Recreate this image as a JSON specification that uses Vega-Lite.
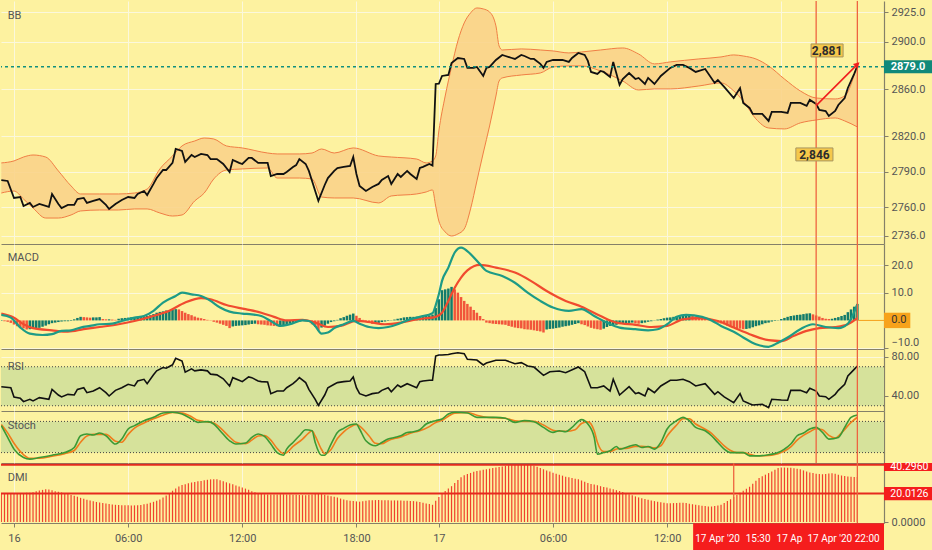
{
  "$schema": "https://vega.github.io/schema/vega-lite/v6.json",
  "background": "#fdf2a0",
  "padding": 0,
  "spacing": 0,
  "bounds": "flush",
  "config": {
    "view": {"stroke": null},
    "axis": {"labelFont": "Roboto", "labelFontSize": 11, "labelColor": "#555555", "tickColor": "#858069", "domainColor": "#858069", "domainWidth": 1.2, "gridColor": "#fbf8dc", "tickSize": 4, "labelPadding": 3},
    "text": {"font": "Roboto"},
    "concat": {"spacing": 0}
  },
  "datasets": {
    "price": [
      {"i":-4,"p":2783.0},{"i":-2,"p":2782.2},{"i":0,"p":2767.8},{"i":2,"p":2768.6},{"i":3,"p":2761.0},{"i":5,"p":2763.6},{"i":6,"p":2760.2},{"i":8,"p":2762.7},{"i":11,"p":2760.2},{"i":12,"p":2771.2},{"i":14,"p":2762.7},{"i":15,"p":2759.3},{"i":17,"p":2761.9},{"i":19,"p":2761.9},{"i":20,"p":2766.9},{"i":22,"p":2767.8},{"i":23,"p":2763.6},{"i":25,"p":2765.3},{"i":27,"p":2766.9},{"i":29,"p":2761.9},{"i":30,"p":2758.5},{"i":32,"p":2762.7},{"i":34,"p":2766.1},{"i":36,"p":2768.6},{"i":38,"p":2767.8},{"i":39,"p":2771.2},{"i":41,"p":2773.7},{"i":42,"p":2770.3},{"i":44,"p":2779.7},{"i":45,"p":2784.7},{"i":47,"p":2791.5},{"i":48,"p":2791.5},{"i":50,"p":2797.5},{"i":51,"p":2809.3},{"i":53,"p":2807.6},{"i":54,"p":2798.3},{"i":56,"p":2804.2},{"i":57,"p":2802.5},{"i":59,"p":2805.1},{"i":61,"p":2804.2},{"i":62,"p":2800.8},{"i":64,"p":2800.8},{"i":66,"p":2796.6},{"i":68,"p":2789.8},{"i":69,"p":2800.0},{"i":71,"p":2797.5},{"i":72,"p":2796.6},{"i":74,"p":2801.7},{"i":75,"p":2801.7},{"i":77,"p":2797.5},{"i":78,"p":2797.5},{"i":80,"p":2797.5},{"i":81,"p":2786.4},{"i":83,"p":2788.1},{"i":85,"p":2788.1},{"i":86,"p":2789.8},{"i":88,"p":2794.1},{"i":89,"p":2795.7},{"i":90,"p":2800.8},{"i":92,"p":2796.6},{"i":93,"p":2790.7},{"i":95,"p":2773.7},{"i":96,"p":2765.3},{"i":98,"p":2778.8},{"i":99,"p":2784.7},{"i":101,"p":2790.7},{"i":102,"p":2793.2},{"i":104,"p":2794.1},{"i":106,"p":2794.9},{"i":107,"p":2802.5},{"i":108,"p":2788.1},{"i":109,"p":2778.0},{"i":111,"p":2773.7},{"i":113,"p":2777.1},{"i":115,"p":2779.7},{"i":116,"p":2783.0},{"i":118,"p":2786.4},{"i":119,"p":2779.7},{"i":121,"p":2788.1},{"i":122,"p":2785.6},{"i":124,"p":2790.7},{"i":125,"p":2788.1},{"i":127,"p":2783.9},{"i":128,"p":2793.2},{"i":129,"p":2794.1},{"i":131,"p":2796.6},{"i":132,"p":2795.3},{"i":133,"p":2864.4},{"i":134,"p":2864.6},{"i":135,"p":2871.2},{"i":137,"p":2872.0},{"i":138,"p":2882.2},{"i":140,"p":2886.4},{"i":142,"p":2885.6},{"i":143,"p":2878.0},{"i":145,"p":2878.0},{"i":146,"p":2878.8},{"i":148,"p":2871.2},{"i":149,"p":2878.0},{"i":150,"p":2878.8},{"i":152,"p":2884.7},{"i":154,"p":2889.0},{"i":155,"p":2888.1},{"i":157,"p":2886.4},{"i":158,"p":2885.6},{"i":160,"p":2889.0},{"i":161,"p":2888.1},{"i":163,"p":2885.6},{"i":164,"p":2885.6},{"i":166,"p":2881.4},{"i":167,"p":2878.0},{"i":168,"p":2883.1},{"i":170,"p":2884.7},{"i":172,"p":2884.7},{"i":173,"p":2884.7},{"i":175,"p":2883.1},{"i":176,"p":2886.4},{"i":178,"p":2890.7},{"i":180,"p":2889.0},{"i":181,"p":2883.9},{"i":182,"p":2874.6},{"i":184,"p":2872.9},{"i":185,"p":2875.4},{"i":186,"p":2874.6},{"i":188,"p":2870.4},{"i":189,"p":2883.1},{"i":191,"p":2863.6},{"i":192,"p":2868.6},{"i":194,"p":2873.7},{"i":196,"p":2868.6},{"i":197,"p":2869.5},{"i":199,"p":2864.4},{"i":200,"p":2869.5},{"i":202,"p":2864.4},{"i":204,"p":2871.2},{"i":207,"p":2878.0},{"i":209,"p":2880.5},{"i":211,"p":2880.5},{"i":213,"p":2878.0},{"i":215,"p":2874.6},{"i":218,"p":2877.1},{"i":221,"p":2865.3},{"i":222,"p":2867.8},{"i":224,"p":2861.9},{"i":227,"p":2852.5},{"i":229,"p":2861.0},{"i":230,"p":2848.3},{"i":232,"p":2844.1},{"i":233,"p":2839.0},{"i":236,"p":2839.0},{"i":238,"p":2833.1},{"i":239,"p":2840.7},{"i":242,"p":2840.7},{"i":244,"p":2839.8},{"i":245,"p":2848.3},{"i":248,"p":2848.3},{"i":250,"p":2845.8},{"i":251,"p":2850.9},{"i":253,"p":2847.5},{"i":254,"p":2842.4},{"i":256,"p":2841.5},{"i":257,"p":2837.3},{"i":259,"p":2841.5},{"i":260,"p":2846.6},{"i":262,"p":2852.5},{"i":263,"p":2861.0},{"i":265,"p":2872.9},{"i":266,"p":2879.5}
    ],
    "bb": [
      {"i":-4,"u":2797.5,"l":2772.0},{"i":0,"u":2799.2,"l":2773.7},{"i":3,"u":2802.5,"l":2766.9},{"i":6,"u":2804.2,"l":2759.3},{"i":10,"u":2802.5,"l":2750.8},{"i":14,"u":2790.7,"l":2750.8},{"i":18,"u":2778.0,"l":2753.4},{"i":21,"u":2771.2,"l":2756.8},{"i":27,"u":2771.2,"l":2757.6},{"i":33,"u":2771.2,"l":2757.6},{"i":38,"u":2772.0,"l":2758.5},{"i":42,"u":2775.4,"l":2758.5},{"i":46,"u":2792.4,"l":2755.1},{"i":50,"u":2803.4,"l":2752.5},{"i":53,"u":2811.9,"l":2753.4},{"i":57,"u":2816.1,"l":2765.3},{"i":60,"u":2818.6,"l":2772.0},{"i":63,"u":2817.8,"l":2783.9},{"i":67,"u":2811.9,"l":2791.5},{"i":72,"u":2810.2,"l":2792.4},{"i":80,"u":2805.9,"l":2793.2},{"i":83,"u":2805.1,"l":2784.7},{"i":90,"u":2805.1,"l":2784.7},{"i":94,"u":2805.9,"l":2783.9},{"i":97,"u":2809.3,"l":2768.6},{"i":101,"u":2805.9,"l":2767.8},{"i":107,"u":2810.2,"l":2767.8},{"i":115,"u":2803.4,"l":2763.6},{"i":119,"u":2802.5,"l":2769.5},{"i":127,"u":2800.8,"l":2771.2},{"i":130,"u":2797.5,"l":2772.9},{"i":132,"u":2799.2,"l":2774.6},{"i":133,"u":2803.4,"l":2761.0},{"i":134,"u":2824.6,"l":2748.3},{"i":136,"u":2854.2,"l":2739.0},{"i":138,"u":2878.8,"l":2735.6},{"i":140,"u":2900.9,"l":2737.3},{"i":142,"u":2916.1,"l":2741.5},{"i":144,"u":2924.6,"l":2758.5},{"i":146,"u":2928.8,"l":2782.2},{"i":148,"u":2928.0,"l":2805.9},{"i":150,"u":2925.4,"l":2828.8},{"i":152,"u":2913.6,"l":2854.2},{"i":153,"u":2896.6,"l":2866.9},{"i":154,"u":2893.2,"l":2869.5},{"i":160,"u":2894.1,"l":2872.0},{"i":166,"u":2893.2,"l":2873.7},{"i":170,"u":2892.4,"l":2878.8},{"i":175,"u":2890.7,"l":2879.7},{"i":179,"u":2891.5,"l":2879.7},{"i":185,"u":2893.2,"l":2875.4},{"i":192,"u":2894.9,"l":2866.9},{"i":197,"u":2889.8,"l":2859.3},{"i":202,"u":2881.4,"l":2860.2},{"i":207,"u":2883.1,"l":2860.2},{"i":216,"u":2885.6,"l":2862.7},{"i":223,"u":2887.3,"l":2865.3},{"i":227,"u":2889.0,"l":2858.5},{"i":230,"u":2888.1,"l":2850.0},{"i":234,"u":2885.6,"l":2834.8},{"i":238,"u":2879.7,"l":2827.1},{"i":243,"u":2868.6,"l":2826.3},{"i":248,"u":2858.5,"l":2831.4},{"i":253,"u":2852.5,"l":2833.9},{"i":259,"u":2851.7,"l":2835.6},{"i":262,"u":2854.2,"l":2833.1},{"i":266,"u":2881.4,"l":2828.0}
    ],
    "macd": [
      {"i":-4,"m":2.0},{"i":-1,"m":1.0},{"i":2,"m":-2.6},{"i":5,"m":-4.8},{"i":9,"m":-5.3},{"i":12,"m":-5.0},{"i":15,"m":-3.8},{"i":18,"m":-3.6},{"i":21,"m":-2.6},{"i":24,"m":-2.0},{"i":27,"m":-1.4},{"i":31,"m":-1.2},{"i":34,"m":-0.2},{"i":38,"m":1.0},{"i":41,"m":1.6},{"i":44,"m":3.5},{"i":47,"m":6.5},{"i":51,"m":8.9},{"i":53,"m":10.1},{"i":56,"m":9.5},{"i":59,"m":8.9},{"i":62,"m":7.1},{"i":65,"m":4.7},{"i":68,"m":3.2},{"i":72,"m":2.5},{"i":75,"m":2.2},{"i":78,"m":1.6},{"i":81,"m":-0.2},{"i":84,"m":-2.0},{"i":87,"m":-1.4},{"i":91,"m":0.0},{"i":93,"m":-0.2},{"i":95,"m":-2.0},{"i":97,"m":-4.8},{"i":99,"m":-4.4},{"i":101,"m":-2.8},{"i":104,"m":-1.4},{"i":107,"m":-0.2},{"i":109,"m":-1.2},{"i":112,"m":-2.4},{"i":115,"m":-2.8},{"i":118,"m":-2.4},{"i":121,"m":-1.4},{"i":124,"m":0.0},{"i":128,"m":1.3},{"i":132,"m":2.6},{"i":133,"m":5.5},{"i":134,"m":9.5},{"i":135,"m":14.4},{"i":137,"m":19.2},{"i":139,"m":24.7},{"i":141,"m":26.5},{"i":144,"m":24.1},{"i":147,"m":20.4},{"i":149,"m":18.0},{"i":154,"m":16.2},{"i":158,"m":13.7},{"i":162,"m":10.1},{"i":166,"m":7.1},{"i":170,"m":4.7},{"i":175,"m":3.5},{"i":179,"m":4.1},{"i":183,"m":1.6},{"i":187,"m":-0.8},{"i":191,"m":-2.6},{"i":196,"m":-3.2},{"i":200,"m":-3.6},{"i":203,"m":-3.2},{"i":206,"m":-1.4},{"i":209,"m":1.3},{"i":212,"m":2.0},{"i":217,"m":1.3},{"i":220,"m":0.0},{"i":223,"m":-2.0},{"i":227,"m":-4.1},{"i":230,"m":-6.2},{"i":234,"m":-8.7},{"i":238,"m":-9.6},{"i":241,"m":-8.1},{"i":244,"m":-6.2},{"i":248,"m":-3.2},{"i":252,"m":-1.4},{"i":256,"m":-2.4},{"i":260,"m":-2.8},{"i":263,"m":-1.2},{"i":266,"m":5.9}
    ],
    "sig": [
      {"i":-4,"s":2.5},{"i":0,"s":1.0},{"i":3,"s":-1.4},{"i":6,"s":-2.8},{"i":12,"s":-3.6},{"i":17,"s":-4.1},{"i":22,"s":-3.2},{"i":27,"s":-2.4},{"i":33,"s":-1.4},{"i":38,"s":-0.2},{"i":43,"s":1.3},{"i":49,"s":3.5},{"i":54,"s":6.5},{"i":59,"s":8.1},{"i":62,"s":7.7},{"i":67,"s":5.6},{"i":73,"s":4.1},{"i":78,"s":2.8},{"i":82,"s":1.3},{"i":86,"s":0.0},{"i":91,"s":0.2},{"i":95,"s":-0.8},{"i":99,"s":-2.4},{"i":103,"s":-2.0},{"i":108,"s":-0.2},{"i":113,"s":-0.8},{"i":117,"s":-1.4},{"i":122,"s":-0.8},{"i":127,"s":0.4},{"i":133,"s":1.3},{"i":135,"s":2.8},{"i":137,"s":7.1},{"i":139,"s":11.9},{"i":141,"s":15.6},{"i":143,"s":18.2},{"i":147,"s":20.2},{"i":152,"s":19.2},{"i":158,"s":17.4},{"i":163,"s":14.4},{"i":168,"s":10.7},{"i":174,"s":7.1},{"i":179,"s":5.0},{"i":185,"s":1.6},{"i":190,"s":-0.8},{"i":196,"s":-1.6},{"i":201,"s":-2.4},{"i":206,"s":-2.0},{"i":211,"s":0.4},{"i":216,"s":0.8},{"i":222,"s":-0.2},{"i":227,"s":-2.6},{"i":232,"s":-5.0},{"i":238,"s":-7.2},{"i":242,"s":-7.5},{"i":246,"s":-5.6},{"i":250,"s":-3.8},{"i":254,"s":-2.8},{"i":259,"s":-2.4},{"i":263,"s":-1.4},{"i":266,"s":0.8}
    ],
    "rsi": [
      {"i":-4,"r":49.5},{"i":-1,"r":48.5},{"i":0,"r":39.0},{"i":2,"r":37.6},{"i":3,"r":34.2},{"i":5,"r":36.6},{"i":6,"r":34.9},{"i":8,"r":38.3},{"i":11,"r":36.6},{"i":12,"r":46.8},{"i":14,"r":41.0},{"i":15,"r":39.0},{"i":17,"r":41.7},{"i":19,"r":41.0},{"i":20,"r":46.8},{"i":22,"r":48.5},{"i":23,"r":43.4},{"i":25,"r":45.1},{"i":27,"r":48.5},{"i":29,"r":43.4},{"i":30,"r":40.0},{"i":32,"r":45.8},{"i":34,"r":48.5},{"i":36,"r":52.0},{"i":38,"r":50.3},{"i":39,"r":55.4},{"i":41,"r":57.1},{"i":42,"r":52.6},{"i":44,"r":61.7},{"i":45,"r":65.8},{"i":47,"r":69.2},{"i":48,"r":68.5},{"i":50,"r":72.0},{"i":51,"r":78.6},{"i":53,"r":75.9},{"i":54,"r":64.4},{"i":56,"r":67.8},{"i":57,"r":65.8},{"i":59,"r":66.8},{"i":61,"r":65.8},{"i":62,"r":62.4},{"i":64,"r":61.7},{"i":66,"r":57.6},{"i":68,"r":50.3},{"i":69,"r":58.8},{"i":71,"r":56.1},{"i":72,"r":54.7},{"i":74,"r":59.5},{"i":75,"r":58.8},{"i":77,"r":55.4},{"i":78,"r":54.7},{"i":80,"r":54.4},{"i":81,"r":42.4},{"i":83,"r":45.1},{"i":85,"r":45.1},{"i":86,"r":48.5},{"i":88,"r":52.6},{"i":89,"r":55.4},{"i":90,"r":58.8},{"i":92,"r":53.7},{"i":93,"r":46.8},{"i":95,"r":36.6},{"i":96,"r":30.4},{"i":98,"r":41.0},{"i":99,"r":48.5},{"i":101,"r":52.0},{"i":102,"r":53.7},{"i":104,"r":54.7},{"i":106,"r":55.4},{"i":107,"r":59.5},{"i":108,"r":48.5},{"i":109,"r":42.4},{"i":111,"r":40.0},{"i":113,"r":42.4},{"i":115,"r":43.4},{"i":116,"r":45.8},{"i":118,"r":48.5},{"i":119,"r":44.4},{"i":121,"r":51.3},{"i":122,"r":49.2},{"i":124,"r":52.6},{"i":125,"r":51.3},{"i":127,"r":48.5},{"i":128,"r":54.7},{"i":129,"r":55.4},{"i":131,"r":56.1},{"i":132,"r":56.1},{"i":133,"r":81.0},{"i":134,"r":82.0},{"i":135,"r":82.0},{"i":137,"r":82.5},{"i":138,"r":83.4},{"i":140,"r":84.4},{"i":142,"r":83.4},{"i":143,"r":77.6},{"i":146,"r":76.9},{"i":148,"r":71.8},{"i":149,"r":73.8},{"i":152,"r":76.6},{"i":155,"r":76.6},{"i":158,"r":73.1},{"i":160,"r":74.2},{"i":162,"r":70.8},{"i":164,"r":69.7},{"i":167,"r":61.2},{"i":169,"r":64.9},{"i":172,"r":65.6},{"i":174,"r":63.9},{"i":178,"r":69.7},{"i":180,"r":64.9},{"i":182,"r":48.5},{"i":184,"r":48.5},{"i":186,"r":50.3},{"i":188,"r":45.1},{"i":189,"r":57.1},{"i":191,"r":41.0},{"i":194,"r":49.6},{"i":196,"r":42.4},{"i":197,"r":43.4},{"i":199,"r":40.0},{"i":200,"r":47.9},{"i":202,"r":43.4},{"i":204,"r":50.3},{"i":207,"r":56.1},{"i":209,"r":56.1},{"i":211,"r":57.1},{"i":213,"r":54.7},{"i":215,"r":50.3},{"i":218,"r":52.6},{"i":221,"r":41.7},{"i":222,"r":44.4},{"i":224,"r":39.0},{"i":227,"r":33.2},{"i":229,"r":42.4},{"i":230,"r":34.9},{"i":232,"r":32.1},{"i":233,"r":30.8},{"i":236,"r":31.5},{"i":238,"r":28.0},{"i":239,"r":36.6},{"i":242,"r":35.9},{"i":244,"r":35.6},{"i":245,"r":45.8},{"i":248,"r":45.8},{"i":250,"r":43.4},{"i":251,"r":47.9},{"i":253,"r":45.1},{"i":254,"r":40.0},{"i":256,"r":39.3},{"i":257,"r":36.6},{"i":259,"r":41.7},{"i":260,"r":45.8},{"i":262,"r":52.0},{"i":263,"r":60.5},{"i":265,"r":67.3},{"i":266,"r":70.8}
    ],
    "stk": [
      {"i":-4,"k":71.8},{"i":-2,"k":49.2},{"i":0,"k":26.7},{"i":3,"k":10.5},{"i":5,"k":7.4},{"i":8,"k":10.5},{"i":12,"k":15.0},{"i":16,"k":20.0},{"i":19,"k":29.8},{"i":21,"k":52.4},{"i":23,"k":55.7},{"i":25,"k":53.8},{"i":27,"k":57.6},{"i":29,"k":52.4},{"i":32,"k":36.4},{"i":34,"k":46.0},{"i":36,"k":65.4},{"i":38,"k":71.8},{"i":41,"k":81.4},{"i":44,"k":87.8},{"i":47,"k":96.3},{"i":50,"k":97.5},{"i":53,"k":94.3},{"i":56,"k":84.7},{"i":58,"k":78.2},{"i":61,"k":79.5},{"i":63,"k":75.0},{"i":65,"k":62.1},{"i":68,"k":42.7},{"i":70,"k":36.4},{"i":73,"k":38.3},{"i":75,"k":49.2},{"i":77,"k":55.7},{"i":79,"k":51.1},{"i":81,"k":36.4},{"i":83,"k":20.0},{"i":85,"k":15.0},{"i":86,"k":26.7},{"i":88,"k":39.5},{"i":90,"k":52.4},{"i":92,"k":64.0},{"i":94,"k":62.1},{"i":95,"k":39.5},{"i":97,"k":15.0},{"i":98,"k":15.0},{"i":100,"k":36.4},{"i":102,"k":58.8},{"i":104,"k":66.5},{"i":106,"k":73.1},{"i":108,"k":75.0},{"i":109,"k":65.4},{"i":111,"k":42.7},{"i":114,"k":33.1},{"i":116,"k":39.5},{"i":118,"k":46.0},{"i":120,"k":49.2},{"i":122,"k":52.4},{"i":124,"k":58.8},{"i":126,"k":60.1},{"i":128,"k":64.0},{"i":130,"k":75.0},{"i":133,"k":81.4},{"i":135,"k":84.7},{"i":137,"k":94.3},{"i":139,"k":97.5},{"i":143,"k":96.3},{"i":146,"k":87.8},{"i":149,"k":87.8},{"i":152,"k":87.8},{"i":155,"k":85.9},{"i":158,"k":78.2},{"i":161,"k":81.4},{"i":164,"k":79.5},{"i":167,"k":68.5},{"i":170,"k":58.8},{"i":172,"k":62.1},{"i":174,"k":60.1},{"i":176,"k":68.5},{"i":179,"k":83.4},{"i":181,"k":75.0},{"i":183,"k":49.2},{"i":184,"k":17.0},{"i":186,"k":20.0},{"i":188,"k":23.4},{"i":190,"k":31.8},{"i":191,"k":26.7},{"i":193,"k":29.8},{"i":196,"k":35.0},{"i":198,"k":29.8},{"i":200,"k":31.8},{"i":202,"k":26.7},{"i":204,"k":39.5},{"i":206,"k":65.4},{"i":209,"k":81.4},{"i":211,"k":87.8},{"i":213,"k":81.4},{"i":215,"k":68.5},{"i":218,"k":62.1},{"i":220,"k":52.4},{"i":222,"k":39.5},{"i":224,"k":26.7},{"i":226,"k":20.0},{"i":228,"k":20.0},{"i":230,"k":20.0},{"i":232,"k":13.7},{"i":234,"k":13.7},{"i":237,"k":15.0},{"i":241,"k":20.0},{"i":243,"k":26.7},{"i":245,"k":36.4},{"i":247,"k":52.4},{"i":249,"k":57.6},{"i":251,"k":65.4},{"i":253,"k":68.5},{"i":255,"k":58.8},{"i":257,"k":46.0},{"i":260,"k":49.2},{"i":262,"k":68.5},{"i":264,"k":87.8},{"i":266,"k":92.4}
    ],
    "std": [
      {"i":-4,"d":74},{"i":-2,"d":58},{"i":0,"d":38},{"i":3,"d":16},{"i":5,"d":9},{"i":8,"d":9},{"i":12,"d":13},{"i":16,"d":18},{"i":19,"d":24},{"i":21,"d":40},{"i":23,"d":52},{"i":25,"d":55},{"i":27,"d":55},{"i":29,"d":55},{"i":32,"d":42},{"i":34,"d":40},{"i":36,"d":55},{"i":38,"d":67},{"i":41,"d":77},{"i":44,"d":85},{"i":47,"d":92},{"i":50,"d":97},{"i":53,"d":96},{"i":56,"d":89},{"i":58,"d":82},{"i":61,"d":79},{"i":63,"d":77},{"i":65,"d":68},{"i":68,"d":50},{"i":70,"d":40},{"i":73,"d":37},{"i":75,"d":44},{"i":77,"d":52},{"i":79,"d":53},{"i":81,"d":44},{"i":83,"d":28},{"i":85,"d":18},{"i":86,"d":20},{"i":88,"d":32},{"i":91,"d":46},{"i":93,"d":58},{"i":94,"d":62},{"i":95,"d":52},{"i":97,"d":26},{"i":98,"d":18},{"i":100,"d":26},{"i":102,"d":47},{"i":104,"d":60},{"i":106,"d":69},{"i":108,"d":74},{"i":109,"d":71},{"i":112,"d":52},{"i":114,"d":38},{"i":116,"d":37},{"i":118,"d":43},{"i":120,"d":47},{"i":122,"d":50},{"i":124,"d":55},{"i":126,"d":59},{"i":128,"d":62},{"i":131,"d":70},{"i":133,"d":78},{"i":135,"d":82},{"i":137,"d":90},{"i":139,"d":96},{"i":143,"d":97},{"i":146,"d":92},{"i":149,"d":88},{"i":152,"d":87},{"i":155,"d":86},{"i":158,"d":81},{"i":161,"d":80},{"i":164,"d":80},{"i":167,"d":73},{"i":170,"d":63},{"i":172,"d":61},{"i":174,"d":61},{"i":177,"d":64},{"i":179,"d":76},{"i":181,"d":79},{"i":183,"d":62},{"i":184,"d":40},{"i":186,"d":22},{"i":188,"d":22},{"i":190,"d":27},{"i":191,"d":28},{"i":193,"d":28},{"i":196,"d":32},{"i":198,"d":32},{"i":200,"d":31},{"i":202,"d":29},{"i":204,"d":33},{"i":206,"d":52},{"i":209,"d":73},{"i":211,"d":85},{"i":213,"d":85},{"i":215,"d":75},{"i":218,"d":65},{"i":220,"d":57},{"i":222,"d":45},{"i":224,"d":33},{"i":226,"d":24},{"i":228,"d":20},{"i":230,"d":20},{"i":232,"d":17},{"i":234,"d":14},{"i":237,"d":14},{"i":241,"d":18},{"i":243,"d":23},{"i":245,"d":31},{"i":247,"d":44},{"i":249,"d":53},{"i":251,"d":60},{"i":253,"d":66},{"i":255,"d":64},{"i":257,"d":53},{"i":259,"d":48},{"i":261,"d":58},{"i":264,"d":78},{"i":266,"d":88}
    ],
    "bars": [
      {"i":-4,"h":-0.2,"a":20.2},{"i":-3,"h":-0.3,"a":20.2},{"i":-2,"h":-0.5,"a":20.2},{"i":-1,"h":-0.9,"a":20.2},{"i":0,"h":-1.5,"a":20.2},{"i":1,"h":-2.1,"a":20.3},{"i":2,"h":-2.5,"a":20.3},{"i":3,"h":-2.9,"a":20.4},{"i":4,"h":-3.3,"a":20.5},{"i":5,"h":-3.2,"a":20.5},{"i":6,"h":-3.1,"a":21.0},{"i":7,"h":-2.9,"a":21.6},{"i":8,"h":-2.7,"a":22.1},{"i":9,"h":-2.3,"a":22.6},{"i":10,"h":-1.9,"a":23.0},{"i":11,"h":-1.4,"a":22.8},{"i":12,"h":-1.0,"a":22.3},{"i":13,"h":-0.8,"a":21.7},{"i":14,"h":-0.6,"a":21.2},{"i":15,"h":-0.4,"a":20.8},{"i":16,"h":-0.3,"a":20.3},{"i":17,"h":-0.3,"a":19.7},{"i":18,"h":-0.2,"a":19.0},{"i":19,"h":0.4,"a":18.4},{"i":20,"h":0.9,"a":17.8},{"i":21,"h":1.3,"a":17.0},{"i":22,"h":1.2,"a":16.3},{"i":23,"h":1.1,"a":15.6},{"i":24,"h":1.0,"a":15.1},{"i":25,"h":1.1,"a":14.6},{"i":26,"h":1.1,"a":14.1},{"i":27,"h":1.2,"a":13.7},{"i":28,"h":0.5,"a":13.3},{"i":29,"h":0.4,"a":13.0},{"i":30,"h":0.4,"a":12.6},{"i":31,"h":0.3,"a":12.3},{"i":32,"h":0.2,"a":12.1},{"i":33,"h":0.6,"a":12.0},{"i":34,"h":0.8,"a":11.8},{"i":35,"h":0.9,"a":11.7},{"i":36,"h":1.0,"a":11.7},{"i":37,"h":1.1,"a":11.6},{"i":38,"h":1.2,"a":11.7},{"i":39,"h":1.3,"a":11.8},{"i":40,"h":1.3,"a":11.9},{"i":41,"h":1.5,"a":12.4},{"i":42,"h":1.6,"a":12.9},{"i":43,"h":1.9,"a":13.5},{"i":44,"h":2.3,"a":14.2},{"i":45,"h":2.8,"a":14.9},{"i":46,"h":3.1,"a":15.8},{"i":47,"h":3.3,"a":17.2},{"i":48,"h":3.6,"a":18.7},{"i":49,"h":3.8,"a":20.4},{"i":50,"h":3.9,"a":22.0},{"i":51,"h":4.1,"a":23.5},{"i":52,"h":4.0,"a":24.9},{"i":53,"h":3.4,"a":26.0},{"i":54,"h":2.8,"a":26.6},{"i":55,"h":2.3,"a":27.2},{"i":56,"h":1.9,"a":27.8},{"i":57,"h":1.4,"a":28.2},{"i":58,"h":1.0,"a":28.6},{"i":59,"h":0.8,"a":28.9},{"i":60,"h":0.5,"a":29.3},{"i":61,"h":0.2,"a":29.7},{"i":62,"h":-0.1,"a":30.0},{"i":63,"h":-0.5,"a":30.1},{"i":64,"h":-0.8,"a":30.0},{"i":65,"h":-1.2,"a":29.4},{"i":66,"h":-1.6,"a":28.7},{"i":67,"h":-2.0,"a":27.9},{"i":68,"h":-2.8,"a":27.2},{"i":69,"h":-2.2,"a":26.5},{"i":70,"h":-2.0,"a":25.7},{"i":71,"h":-1.9,"a":25.0},{"i":72,"h":-1.8,"a":24.2},{"i":73,"h":-1.7,"a":23.5},{"i":74,"h":-1.5,"a":22.6},{"i":75,"h":-1.3,"a":21.6},{"i":76,"h":-1.2,"a":20.9},{"i":77,"h":-1.4,"a":20.4},{"i":78,"h":-1.5,"a":19.9},{"i":79,"h":-1.6,"a":19.5},{"i":80,"h":-1.8,"a":19.3},{"i":81,"h":-1.9,"a":19.3},{"i":82,"h":-2.0,"a":19.3},{"i":83,"h":-2.1,"a":19.4},{"i":84,"h":-2.0,"a":19.5},{"i":85,"h":-1.8,"a":19.5},{"i":86,"h":-1.4,"a":19.4},{"i":87,"h":-1.2,"a":19.3},{"i":88,"h":-0.9,"a":19.2},{"i":89,"h":-0.6,"a":19.1},{"i":90,"h":-0.4,"a":19.0},{"i":91,"h":-0.1,"a":18.9},{"i":92,"h":-0.2,"a":18.9},{"i":93,"h":-0.5,"a":19.1},{"i":94,"h":-1.4,"a":19.4},{"i":95,"h":-2.4,"a":19.7},{"i":96,"h":-3.8,"a":19.8},{"i":97,"h":-2.6,"a":19.6},{"i":98,"h":-1.9,"a":19.2},{"i":99,"h":-1.2,"a":18.7},{"i":100,"h":-0.6,"a":18.2},{"i":101,"h":-0.3,"a":17.8},{"i":102,"h":0.2,"a":17.2},{"i":103,"h":0.8,"a":16.5},{"i":104,"h":1.2,"a":15.8},{"i":105,"h":1.7,"a":15.3},{"i":106,"h":2.1,"a":15.0},{"i":107,"h":2.5,"a":14.7},{"i":108,"h":1.7,"a":14.5},{"i":109,"h":0.9,"a":14.3},{"i":110,"h":0.2,"a":14.6},{"i":111,"h":-0.4,"a":15.0},{"i":112,"h":-0.8,"a":15.3},{"i":113,"h":-1.2,"a":15.3},{"i":114,"h":-1.0,"a":15.4},{"i":115,"h":-0.9,"a":15.4},{"i":116,"h":-0.6,"a":15.3},{"i":117,"h":-0.4,"a":15.3},{"i":118,"h":-0.2,"a":15.3},{"i":119,"h":0.1,"a":15.2},{"i":120,"h":0.3,"a":15.2},{"i":121,"h":0.6,"a":15.1},{"i":122,"h":0.8,"a":15.1},{"i":123,"h":1.1,"a":15.0},{"i":124,"h":1.2,"a":14.9},{"i":125,"h":1.3,"a":14.8},{"i":126,"h":1.3,"a":14.7},{"i":127,"h":1.4,"a":14.4},{"i":128,"h":1.5,"a":14.0},{"i":129,"h":1.6,"a":13.6},{"i":130,"h":1.7,"a":13.1},{"i":131,"h":1.8,"a":12.6},{"i":132,"h":2.1,"a":12.1},{"i":133,"h":4.5,"a":15.0},{"i":134,"h":7.7,"a":17.5},{"i":135,"h":11.0,"a":20.0},{"i":136,"h":11.3,"a":21.8},{"i":137,"h":11.6,"a":23.5},{"i":138,"h":12.2,"a":25.2},{"i":139,"h":11.3,"a":27.5},{"i":140,"h":10.1,"a":29.6},{"i":141,"h":8.5,"a":31.5},{"i":142,"h":7.1,"a":32.8},{"i":143,"h":6.0,"a":33.7},{"i":144,"h":5.0,"a":34.5},{"i":145,"h":3.8,"a":35.3},{"i":146,"h":2.8,"a":35.9},{"i":147,"h":1.6,"a":36.3},{"i":148,"h":0.5,"a":36.7},{"i":149,"h":-0.8,"a":37.1},{"i":150,"h":-1.0,"a":37.5},{"i":151,"h":-1.2,"a":37.9},{"i":152,"h":-1.3,"a":38.3},{"i":153,"h":-1.4,"a":38.7},{"i":154,"h":-1.5,"a":39.1},{"i":155,"h":-1.6,"a":39.5},{"i":156,"h":-2.0,"a":39.9},{"i":157,"h":-2.3,"a":40.1},{"i":158,"h":-2.6,"a":40.2},{"i":159,"h":-2.8,"a":40.3},{"i":160,"h":-2.9,"a":40.3},{"i":161,"h":-3.2,"a":40.3},{"i":162,"h":-3.3,"a":40.2},{"i":163,"h":-3.4,"a":40.0},{"i":164,"h":-3.6,"a":39.5},{"i":165,"h":-3.8,"a":38.8},{"i":166,"h":-4.0,"a":37.9},{"i":167,"h":-4.4,"a":37.1},{"i":168,"h":-3.3,"a":36.3},{"i":169,"h":-3.1,"a":35.5},{"i":170,"h":-3.0,"a":34.7},{"i":171,"h":-2.8,"a":34.0},{"i":172,"h":-2.6,"a":33.3},{"i":173,"h":-2.3,"a":32.6},{"i":174,"h":-2.1,"a":31.9},{"i":175,"h":-1.9,"a":31.4},{"i":176,"h":-1.6,"a":31.0},{"i":177,"h":-1.3,"a":30.5},{"i":178,"h":-1.0,"a":30.0},{"i":179,"h":-1.4,"a":29.2},{"i":180,"h":-1.7,"a":28.4},{"i":181,"h":-2.2,"a":27.5},{"i":182,"h":-2.7,"a":26.7},{"i":183,"h":-3.0,"a":26.3},{"i":184,"h":-3.2,"a":25.8},{"i":185,"h":-3.4,"a":25.2},{"i":186,"h":-3.0,"a":24.7},{"i":187,"h":-2.4,"a":24.2},{"i":188,"h":-2.0,"a":23.6},{"i":189,"h":-1.8,"a":23.0},{"i":190,"h":-1.6,"a":22.4},{"i":191,"h":-1.3,"a":21.8},{"i":192,"h":-1.1,"a":21.1},{"i":193,"h":-1.0,"a":20.4},{"i":194,"h":-0.9,"a":19.6},{"i":195,"h":-0.8,"a":18.8},{"i":196,"h":-1.1,"a":18.0},{"i":197,"h":-1.2,"a":17.3},{"i":198,"h":-1.0,"a":16.7},{"i":199,"h":-0.8,"a":16.1},{"i":200,"h":-0.5,"a":15.6},{"i":201,"h":-0.3,"a":15.1},{"i":202,"h":-0.1,"a":14.7},{"i":203,"h":0.3,"a":14.3},{"i":204,"h":0.5,"a":13.9},{"i":205,"h":0.8,"a":13.5},{"i":206,"h":1.0,"a":13.2},{"i":207,"h":1.1,"a":13.2},{"i":208,"h":1.3,"a":13.3},{"i":209,"h":1.5,"a":13.4},{"i":210,"h":1.5,"a":13.5},{"i":211,"h":1.6,"a":13.6},{"i":212,"h":1.7,"a":13.3},{"i":213,"h":1.7,"a":12.9},{"i":214,"h":1.6,"a":12.5},{"i":215,"h":1.4,"a":12.1},{"i":216,"h":1.2,"a":11.8},{"i":217,"h":0.9,"a":11.5},{"i":218,"h":0.6,"a":11.2},{"i":219,"h":0.2,"a":10.9},{"i":220,"h":-0.2,"a":10.9},{"i":221,"h":-0.5,"a":11.2},{"i":222,"h":-0.8,"a":11.6},{"i":223,"h":-1.1,"a":12.2},{"i":224,"h":-1.4,"a":13.4},{"i":225,"h":-1.9,"a":14.7},{"i":226,"h":-2.2,"a":16.0},{"i":227,"h":-2.5,"a":17.5},{"i":228,"h":-2.8,"a":19.0},{"i":229,"h":-3.0,"a":20.5},{"i":230,"h":-3.2,"a":21.9},{"i":231,"h":-3.1,"a":23.4},{"i":232,"h":-2.9,"a":24.8},{"i":233,"h":-2.5,"a":26.9},{"i":234,"h":-2.1,"a":29.0},{"i":235,"h":-1.8,"a":31.0},{"i":236,"h":-1.4,"a":32.2},{"i":237,"h":-1.0,"a":33.3},{"i":238,"h":-0.8,"a":34.4},{"i":239,"h":-0.4,"a":35.6},{"i":240,"h":-0.2,"a":36.8},{"i":241,"h":0.1,"a":37.9},{"i":242,"h":0.5,"a":38.3},{"i":243,"h":0.9,"a":38.3},{"i":244,"h":1.3,"a":38.2},{"i":245,"h":1.6,"a":38.1},{"i":246,"h":1.8,"a":37.8},{"i":247,"h":2.0,"a":37.4},{"i":248,"h":2.1,"a":37.1},{"i":249,"h":2.3,"a":36.3},{"i":250,"h":2.5,"a":35.5},{"i":251,"h":2.6,"a":34.8},{"i":252,"h":2.2,"a":34.4},{"i":253,"h":1.8,"a":34.0},{"i":254,"h":1.4,"a":33.8},{"i":255,"h":0.9,"a":33.6},{"i":256,"h":0.6,"a":33.8},{"i":257,"h":0.5,"a":34.1},{"i":258,"h":0.6,"a":34.3},{"i":259,"h":0.9,"a":33.9},{"i":260,"h":1.2,"a":33.3},{"i":261,"h":1.6,"a":32.7},{"i":262,"h":2.0,"a":32.3},{"i":263,"h":3.0,"a":32.0},{"i":264,"h":4.0,"a":31.8},{"i":265,"h":5.0,"a":31.7},{"i":266,"h":6.0,"a":31.7}
    ],
    "arrow": [{"i":253,"p":2846},{"i":266,"p":2881}]
  },
  "vconcat": [
    {
      "width": 883, "height": 243,
      "layer": [
        {"data": {"name": "bb"}, "mark": {"type": "area", "color": "#f9d38a", "opacity": 0.9, "interpolate": "monotone", "clip": true},
         "encoding": {
           "x": {"field": "i", "type": "quantitative", "title": null, "scale": {"domain": [-4.1, 274.4], "nice": false, "zero": false}, "axis": {"title": null, "values": [0,36,72,108,134,170,206,242], "labels": false, "ticks": false, "domain": true, "grid": true}},
           "y": {"field": "u", "type": "quantitative", "title": null, "scale": {"domain": [2728.8, 2934.7], "nice": false, "zero": false}, "axis": {"title": null, "orient": "right", "values": [2736,2760,2790,2820,2860,2900,2925], "format": ".1f", "grid": true, "domain": true}},
           "y2": {"field": "l"}}},
        {"data": {"name": "bb"}, "mark": {"type": "line", "color": "#f07e45", "strokeWidth": 1, "interpolate": "monotone", "clip": true},
         "encoding": {
           "x": {"field": "i", "type": "quantitative", "title": null, "scale": {"domain": [-4.1, 274.4], "nice": false, "zero": false}},
           "y": {"field": "u", "type": "quantitative", "title": null, "scale": {"domain": [2728.8, 2934.7], "nice": false, "zero": false}}}},
        {"data": {"name": "bb"}, "mark": {"type": "line", "color": "#f07e45", "strokeWidth": 1, "interpolate": "monotone", "clip": true},
         "encoding": {
           "x": {"field": "i", "type": "quantitative", "title": null, "scale": {"domain": [-4.1, 274.4], "nice": false, "zero": false}},
           "y": {"field": "l", "type": "quantitative", "title": null, "scale": {"domain": [2728.8, 2934.7], "nice": false, "zero": false}}}},
        {"data": {"name": "price"}, "mark": {"type": "line", "color": "#111111", "strokeWidth": 1.8, "clip": true},
         "encoding": {
           "x": {"field": "i", "type": "quantitative", "title": null, "scale": {"domain": [-4.1, 274.4], "nice": false, "zero": false}},
           "y": {"field": "p", "type": "quantitative", "title": null, "scale": {"domain": [2728.8, 2934.7], "nice": false, "zero": false}}}},
        {"data": {"values": [{}]}, "mark": {"type": "rule", "color": "#12907e", "strokeDash": [3, 3], "strokeWidth": 1.5},
         "encoding": {"y": {"datum": 2879, "type": "quantitative", "scale": {"domain": [2728.8, 2934.7], "nice": false, "zero": false}}}},
        {"data": {"values": [{"i": 253}, {"i": 266}]}, "mark": {"type": "rule", "color": "#ee6440", "strokeWidth": 1.3},
         "encoding": {"x": {"field": "i", "type": "quantitative", "title": null, "scale": {"domain": [-4.1, 274.4], "nice": false, "zero": false}}}},
        {"data": {"name": "arrow"}, "mark": {"type": "line", "color": "#f01e1e", "strokeWidth": 1.6},
         "encoding": {
           "x": {"field": "i", "type": "quantitative", "title": null, "scale": {"domain": [-4.1, 274.4], "nice": false, "zero": false}},
           "y": {"field": "p", "type": "quantitative", "title": null, "scale": {"domain": [2728.8, 2934.7], "nice": false, "zero": false}}}},
        {"data": {"name": "arrow"}, "transform": [{"filter": "datum.i == 266"}], "mark": {"type": "point", "shape": "triangle-right", "angle": 316, "size": 45, "filled": true, "color": "#f01e1e", "opacity": 1},
         "encoding": {
           "x": {"field": "i", "type": "quantitative", "title": null, "scale": {"domain": [-4.1, 274.4], "nice": false, "zero": false}},
           "y": {"field": "p", "type": "quantitative", "title": null, "scale": {"domain": [2728.8, 2934.7], "nice": false, "zero": false}}}},
        {"data": {"values": [{}]}, "mark": {"type": "rect", "color": "#f5c84a", "stroke": "#a89560", "strokeWidth": 1},
         "encoding": {
           "x": {"datum": 251.4, "type": "quantitative", "scale": {"domain": [-4.1, 274.4], "nice": false, "zero": false}}, "x2": {"datum": 261.5},
           "y": {"datum": 2898.3, "type": "quantitative", "scale": {"domain": [2728.8, 2934.7], "nice": false, "zero": false}}, "y2": {"datum": 2887.3}}},
        {"data": {"values": [{}]}, "mark": {"type": "text", "fontSize": 12, "fontWeight": "bold", "color": "#2d2d2d", "align": "center", "baseline": "middle"},
         "encoding": {
           "x": {"datum": 256.45, "type": "quantitative", "scale": {"domain": [-4.1, 274.4], "nice": false, "zero": false}},
           "y": {"datum": 2892.6, "type": "quantitative", "scale": {"domain": [2728.8, 2934.7], "nice": false, "zero": false}},
           "text": {"value": "2,881"}}},
        {"data": {"values": [{}]}, "mark": {"type": "rect", "color": "#f5c84a", "stroke": "#a89560", "strokeWidth": 1},
         "encoding": {
           "x": {"datum": 246.6, "type": "quantitative", "scale": {"domain": [-4.1, 274.4], "nice": false, "zero": false}}, "x2": {"datum": 258.3},
           "y": {"datum": 2810.2, "type": "quantitative", "scale": {"domain": [2728.8, 2934.7], "nice": false, "zero": false}}, "y2": {"datum": 2799.2}}},
        {"data": {"values": [{}]}, "mark": {"type": "text", "fontSize": 12, "fontWeight": "bold", "color": "#2d2d2d", "align": "center", "baseline": "middle"},
         "encoding": {
           "x": {"datum": 252.45, "type": "quantitative", "scale": {"domain": [-4.1, 274.4], "nice": false, "zero": false}},
           "y": {"datum": 2804.5, "type": "quantitative", "scale": {"domain": [2728.8, 2934.7], "nice": false, "zero": false}},
           "text": {"value": "2,846"}}},
        {"data": {"values": [{}]}, "mark": {"type": "text", "fontSize": 11, "color": "#555555", "align": "left", "baseline": "middle"},
         "encoding": {
           "x": {"datum": -2, "type": "quantitative", "scale": {"domain": [-4.1, 274.4], "nice": false, "zero": false}},
           "y": {"datum": 2922, "type": "quantitative", "scale": {"domain": [2728.8, 2934.7], "nice": false, "zero": false}},
           "text": {"value": "BB"}}},
        {"data": {"values": [{}]}, "mark": {"type": "rect", "color": "#10897a"},
         "encoding": {
           "x": {"datum": 274.4, "type": "quantitative", "scale": {"domain": [-4.1, 274.4], "nice": false, "zero": false}}, "x2": {"datum": 290.5},
           "y": {"datum": 2884.5, "type": "quantitative", "scale": {"domain": [2728.8, 2934.7], "nice": false, "zero": false}}, "y2": {"datum": 2873.5}}},
        {"data": {"values": [{}]}, "mark": {"type": "text", "fontSize": 11, "fontWeight": "bold", "color": "#ffffff", "align": "left", "baseline": "middle"},
         "encoding": {
           "x": {"datum": 276.5, "type": "quantitative", "scale": {"domain": [-4.1, 274.4], "nice": false, "zero": false}},
           "y": {"datum": 2879, "type": "quantitative", "scale": {"domain": [2728.8, 2934.7], "nice": false, "zero": false}},
           "text": {"value": "2879.0"}}}
      ]
    },
    {
      "width": 883, "height": 105,
      "layer": [
        {"data": {"name": "bars"}, "transform": [{"window": [{"op": "lag", "field": "h", "as": "hp"}], "sort": [{"field": "i"}]}],
         "mark": {"type": "rule", "strokeWidth": 2.5, "clip": true},
         "encoding": {
           "x": {"field": "i", "type": "quantitative", "title": null, "scale": {"domain": [-4.1, 274.4], "nice": false, "zero": false}, "axis": {"title": null, "values": [0,36,72,108,134,170,206,242], "labels": false, "ticks": false, "domain": true, "grid": true}},
           "y": {"field": "h", "type": "quantitative", "title": null, "scale": {"domain": [-10.4, 27.8], "nice": false, "zero": false}, "axis": {"title": null, "orient": "right", "values": [20, 10, -10], "format": ".1f", "grid": true, "domain": true, "labelBaseline": {"condition": {"test": "datum.value == -10", "value": "bottom"}, "value": "middle"}}},
           "y2": {"datum": 0},
           "color": {"condition": {"test": "datum.hp == null || datum.h >= datum.hp", "value": "#127b6b"}, "value": "#f1553b"}}},
        {"data": {"name": "sig"}, "mark": {"type": "line", "color": "#f04b2f", "strokeWidth": 2.2, "interpolate": "monotone", "clip": true},
         "encoding": {
           "x": {"field": "i", "type": "quantitative", "title": null, "scale": {"domain": [-4.1, 274.4], "nice": false, "zero": false}},
           "y": {"field": "s", "type": "quantitative", "title": null, "scale": {"domain": [-10.4, 27.8], "nice": false, "zero": false}}}},
        {"data": {"name": "macd"}, "mark": {"type": "line", "color": "#1d9b86", "strokeWidth": 2.2, "interpolate": "monotone", "clip": true},
         "encoding": {
           "x": {"field": "i", "type": "quantitative", "title": null, "scale": {"domain": [-4.1, 274.4], "nice": false, "zero": false}},
           "y": {"field": "m", "type": "quantitative", "title": null, "scale": {"domain": [-10.4, 27.8], "nice": false, "zero": false}}}},
        {"data": {"values": [{"i": 253}, {"i": 266}]}, "mark": {"type": "rule", "color": "#ee6440", "strokeWidth": 1.3},
         "encoding": {"x": {"field": "i", "type": "quantitative", "title": null, "scale": {"domain": [-4.1, 274.4], "nice": false, "zero": false}}}},
        {"data": {"values": [{}]}, "mark": {"type": "rule", "color": "#f5a01a", "strokeWidth": 1},
         "encoding": {
           "x": {"datum": 266.3, "type": "quantitative", "scale": {"domain": [-4.1, 274.4], "nice": false, "zero": false}}, "x2": {"datum": 274.4},
           "y": {"datum": 0, "type": "quantitative", "scale": {"domain": [-10.4, 27.8], "nice": false, "zero": false}}}},
        {"data": {"values": [{}]}, "mark": {"type": "rect", "color": "#f7a21b"},
         "encoding": {
           "x": {"datum": 274.4, "type": "quantitative", "scale": {"domain": [-4.1, 274.4], "nice": false, "zero": false}}, "x2": {"datum": 282.7},
           "y": {"datum": 2.8, "type": "quantitative", "scale": {"domain": [-10.4, 27.8], "nice": false, "zero": false}}, "y2": {"datum": -2.8}}},
        {"data": {"values": [{}]}, "mark": {"type": "text", "fontSize": 11, "color": "#333333", "align": "left", "baseline": "middle"},
         "encoding": {
           "x": {"datum": 276.7, "type": "quantitative", "scale": {"domain": [-4.1, 274.4], "nice": false, "zero": false}},
           "y": {"datum": 0, "type": "quantitative", "scale": {"domain": [-10.4, 27.8], "nice": false, "zero": false}},
           "text": {"value": "0.0"}}},
        {"data": {"values": [{}]}, "mark": {"type": "text", "fontSize": 11, "color": "#555555", "align": "left", "baseline": "middle"},
         "encoding": {
           "x": {"datum": -2, "type": "quantitative", "scale": {"domain": [-4.1, 274.4], "nice": false, "zero": false}},
           "y": {"datum": 22.7, "type": "quantitative", "scale": {"domain": [-10.4, 27.8], "nice": false, "zero": false}},
           "text": {"value": "MACD"}}}
      ]
    },
    {
      "width": 883, "height": 62,
      "layer": [
        {"data": {"values": [{}]}, "mark": {"type": "rect", "color": "#d6e29b"},
         "encoding": {
           "x": {"datum": -4.1, "type": "quantitative", "title": null, "scale": {"domain": [-4.1, 274.4], "nice": false, "zero": false}, "axis": {"title": null, "values": [0,36,72,108,134,170,206,242], "labels": false, "ticks": false, "domain": true, "grid": true}}, "x2": {"datum": 274.4},
           "y": {"datum": 70, "type": "quantitative", "title": null, "scale": {"domain": [24.6, 88.2], "nice": false, "zero": false}, "axis": {"title": null, "orient": "right", "values": [80, 40], "format": ".2f", "grid": true, "domain": true}}, "y2": {"datum": 30}}},
        {"data": {"values": [{"v": 70}, {"v": 30}]}, "mark": {"type": "rule", "color": "#444444", "strokeDash": [1, 2], "strokeWidth": 1},
         "encoding": {"y": {"field": "v", "type": "quantitative", "title": null, "scale": {"domain": [24.6, 88.2], "nice": false, "zero": false}}}},
        {"data": {"name": "rsi"}, "mark": {"type": "line", "color": "#111111", "strokeWidth": 1.6, "clip": true},
         "encoding": {
           "x": {"field": "i", "type": "quantitative", "title": null, "scale": {"domain": [-4.1, 274.4], "nice": false, "zero": false}},
           "y": {"field": "r", "type": "quantitative", "title": null, "scale": {"domain": [24.6, 88.2], "nice": false, "zero": false}}}},
        {"data": {"values": [{"i": 253}, {"i": 266}]}, "mark": {"type": "rule", "color": "#ee6440", "strokeWidth": 1.3},
         "encoding": {"x": {"field": "i", "type": "quantitative", "title": null, "scale": {"domain": [-4.1, 274.4], "nice": false, "zero": false}}}},
        {"data": {"values": [{}]}, "mark": {"type": "text", "fontSize": 11, "color": "#555555", "align": "left", "baseline": "middle"},
         "encoding": {
           "x": {"datum": -2, "type": "quantitative", "scale": {"domain": [-4.1, 274.4], "nice": false, "zero": false}},
           "y": {"datum": 70, "type": "quantitative", "scale": {"domain": [24.6, 88.2], "nice": false, "zero": false}},
           "text": {"value": "RSI"}}}
      ]
    },
    {
      "width": 883, "height": 52,
      "layer": [
        {"data": {"values": [{}]}, "mark": {"type": "rect", "color": "#d6e29b"},
         "encoding": {
           "x": {"datum": -4.1, "type": "quantitative", "title": null, "scale": {"domain": [-4.1, 274.4], "nice": false, "zero": false}, "axis": {"title": null, "values": [0,36,72,108,134,170,206,242], "labels": false, "ticks": false, "domain": true, "grid": true}}, "x2": {"datum": 274.4},
           "y": {"datum": 80, "type": "quantitative", "title": null, "scale": {"domain": [0, 100], "nice": false, "zero": false}, "axis": {"title": null, "orient": "right", "labels": false, "ticks": false, "grid": false, "domain": true}}, "y2": {"datum": 20}}},
        {"data": {"values": [{"v": 80}, {"v": 20}]}, "mark": {"type": "rule", "color": "#444444", "strokeDash": [1, 2], "strokeWidth": 1},
         "encoding": {"y": {"field": "v", "type": "quantitative", "title": null, "scale": {"domain": [0, 100], "nice": false, "zero": false}}}},
        {"data": {"name": "std"}, "mark": {"type": "line", "color": "#f07d1c", "strokeWidth": 1.6, "interpolate": "monotone", "clip": true},
         "encoding": {
           "x": {"field": "i", "type": "quantitative", "title": null, "scale": {"domain": [-4.1, 274.4], "nice": false, "zero": false}},
           "y": {"field": "d", "type": "quantitative", "title": null, "scale": {"domain": [0, 100], "nice": false, "zero": false}}}},
        {"data": {"name": "stk"}, "mark": {"type": "line", "color": "#3b9a34", "strokeWidth": 1.6, "interpolate": "monotone", "clip": true},
         "encoding": {
           "x": {"field": "i", "type": "quantitative", "title": null, "scale": {"domain": [-4.1, 274.4], "nice": false, "zero": false}},
           "y": {"field": "k", "type": "quantitative", "title": null, "scale": {"domain": [0, 100], "nice": false, "zero": false}}}},
        {"data": {"values": [{"i": 253}, {"i": 266}]}, "mark": {"type": "rule", "color": "#ee6440", "strokeWidth": 1.3},
         "encoding": {"x": {"field": "i", "type": "quantitative", "title": null, "scale": {"domain": [-4.1, 274.4], "nice": false, "zero": false}}}},
        {"data": {"values": [{}]}, "mark": {"type": "text", "fontSize": 11, "color": "#555555", "align": "left", "baseline": "middle"},
         "encoding": {
           "x": {"datum": -2, "type": "quantitative", "scale": {"domain": [-4.1, 274.4], "nice": false, "zero": false}},
           "y": {"datum": 70.4, "type": "quantitative", "scale": {"domain": [0, 100], "nice": false, "zero": false}},
           "text": {"value": "Stoch"}}}
      ]
    },
    {
      "width": 883, "height": 60,
      "layer": [
        {"data": {"name": "bars"}, "mark": {"type": "rule", "color": "#f0402d", "strokeWidth": 1.2, "clip": true},
         "encoding": {
           "x": {"field": "i", "type": "quantitative", "title": null, "scale": {"domain": [-4.1, 274.4], "nice": false, "zero": false},
                 "axis": {"title": null, "values": [0,36,72,108,134,170,206,242], "labelExpr": "datum.value == 0 ? '16' : datum.value == 134 ? '17' : (datum.value == 36 || datum.value == 170) ? '06:00' : (datum.value == 72 || datum.value == 206) ? '12:00' : datum.value == 108 ? '18:00' : ''", "labelFlush": false, "labelOverlap": false, "grid": true, "ticks": true, "tickSize": 4, "labelPadding": 5, "domain": true, "zindex": 0}},
           "y": {"field": "a", "type": "quantitative", "title": null, "scale": {"domain": [-0.7, 41.5], "nice": false, "zero": false}, "axis": {"title": null, "orient": "right", "values": [0], "format": ".4f", "grid": false, "domain": true}},
           "y2": {"datum": 0}}},
        {"data": {"values": [{"v": 40.296}, {"v": 20.0126}]}, "mark": {"type": "rule", "color": "#e52a1e", "strokeWidth": 2},
         "encoding": {"y": {"field": "v", "type": "quantitative", "title": null, "scale": {"domain": [-0.7, 41.5], "nice": false, "zero": false}}}},
        {"data": {"values": [{"i": 227}, {"i": 266}]}, "mark": {"type": "rule", "color": "#ee6440", "strokeWidth": 1.3},
         "encoding": {"x": {"field": "i", "type": "quantitative", "title": null, "scale": {"domain": [-4.1, 274.4], "nice": false, "zero": false}}}},
        {"data": {"values": [{}]}, "mark": {"type": "text", "fontSize": 11, "color": "#555555", "align": "left", "baseline": "middle"},
         "encoding": {
           "x": {"datum": -2, "type": "quantitative", "scale": {"domain": [-4.1, 274.4], "nice": false, "zero": false}},
           "y": {"datum": 31.2, "type": "quantitative", "scale": {"domain": [-0.7, 41.5], "nice": false, "zero": false}},
           "text": {"value": "DMI"}}},
        {"data": {"values": [{}]}, "mark": {"type": "rect", "color": "#f51d1d"},
         "encoding": {
           "x": {"datum": 274.4, "type": "quantitative", "scale": {"domain": [-4.1, 274.4], "nice": false, "zero": false}}, "x2": {"datum": 290.5},
           "y": {"datum": 41.5, "type": "quantitative", "scale": {"domain": [-0.7, 41.5], "nice": false, "zero": false}}, "y2": {"datum": 35.9}}},
        {"data": {"values": [{}]}, "mark": {"type": "text", "fontSize": 10.5, "color": "#ffffff", "align": "left", "baseline": "middle"},
         "encoding": {
           "x": {"datum": 276.4, "type": "quantitative", "scale": {"domain": [-4.1, 274.4], "nice": false, "zero": false}},
           "y": {"datum": 38.9, "type": "quantitative", "scale": {"domain": [-0.7, 41.5], "nice": false, "zero": false}},
           "text": {"value": "40.2960"}}},
        {"data": {"values": [{}]}, "mark": {"type": "rect", "color": "#f51d1d"},
         "encoding": {
           "x": {"datum": 274.4, "type": "quantitative", "scale": {"domain": [-4.1, 274.4], "nice": false, "zero": false}}, "x2": {"datum": 290.5},
           "y": {"datum": 24.6, "type": "quantitative", "scale": {"domain": [-0.7, 41.5], "nice": false, "zero": false}}, "y2": {"datum": 15.3}}},
        {"data": {"values": [{}]}, "mark": {"type": "text", "fontSize": 10.5, "color": "#ffffff", "align": "left", "baseline": "middle"},
         "encoding": {
           "x": {"datum": 276.4, "type": "quantitative", "scale": {"domain": [-4.1, 274.4], "nice": false, "zero": false}},
           "y": {"datum": 20.0126, "type": "quantitative", "scale": {"domain": [-0.7, 41.5], "nice": false, "zero": false}},
           "text": {"value": "20.0126"}}},
        {"data": {"values": [{}]}, "mark": {"type": "rect", "color": "#f51d1d"},
         "encoding": {
           "x": {"datum": 214.2, "type": "quantitative", "scale": {"domain": [-4.1, 274.4], "nice": false, "zero": false}}, "x2": {"datum": 274.4},
           "y": {"datum": -0.9, "type": "quantitative", "scale": {"domain": [-0.7, 41.5], "nice": false, "zero": false}}, "y2": {"datum": -20.4}}},
        {"data": {"values": [{"i": 221.9, "t": "17 Apr '20"}, {"i": 234.7, "t": "15:30"}, {"i": 244.6, "t": "17 Ap"}, {"i": 257.3, "t": "17 Apr '20"}, {"i": 269.1, "t": "22:00"}]},
         "mark": {"type": "text", "fontSize": 10, "color": "#ffffff", "align": "center", "baseline": "middle"},
         "encoding": {
           "x": {"field": "i", "type": "quantitative", "title": null, "scale": {"domain": [-4.1, 274.4], "nice": false, "zero": false}},
           "y": {"datum": -12.0, "type": "quantitative", "scale": {"domain": [-0.7, 41.5], "nice": false, "zero": false}},
           "text": {"field": "t"}}}
      ]
    }
  ]
}
